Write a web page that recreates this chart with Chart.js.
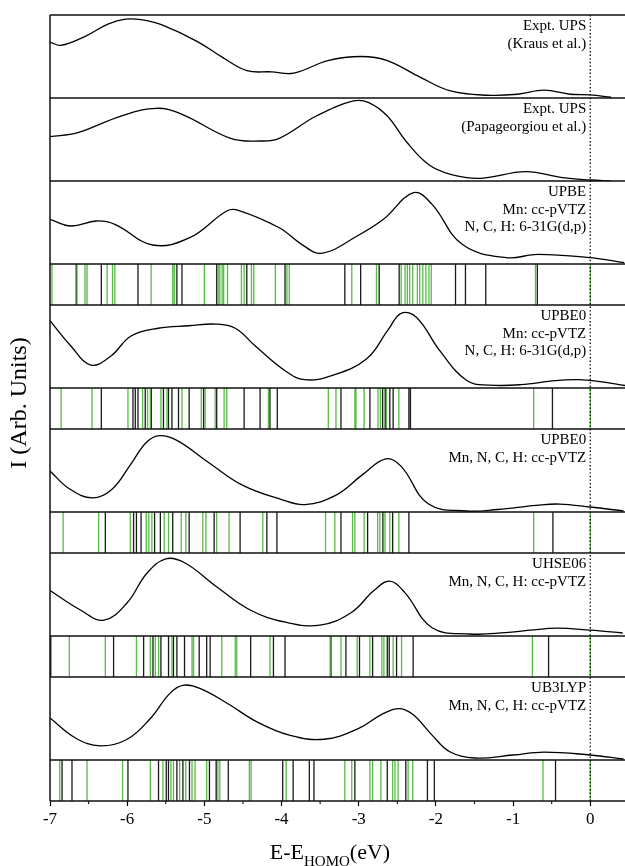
<!DOCTYPE html>
<html>
<head>
<meta charset="utf-8">
<script src="https://cdn.jsdelivr.net/npm/chart.js@4/dist/chart.umd.min.js"></script>
<style>
  html, body { margin: 0; padding: 0; background: #fff; }
  #wrap { position: relative; width: 625px; height: 866px; }
</style>
</head>
<body>
<div id="wrap"><canvas id="chart" width="625" height="866"></canvas></div>
<script>
// panel order, top to bottom
const panelKinds = ['curve', 'curve', 'curve', 'sticks', 'curve', 'sticks', 'curve', 'sticks', 'curve', 'sticks', 'curve', 'sticks'];

const panelLabels = [
  ['Expt. UPS', '(Kraus et al.)'],
  ['Expt. UPS', '(Papageorgiou et al.)'],
  ['UPBE', 'Mn: cc-pVTZ', 'N, C, H: 6-31G(d,p)'],
  null,
  ['UPBE0', 'Mn: cc-pVTZ', 'N, C, H: 6-31G(d,p)'],
  null,
  ['UPBE0', 'Mn, N, C, H: cc-pVTZ'],
  null,
  ['UHSE06', 'Mn, N, C, H: cc-pVTZ'],
  null,
  ['UB3LYP', 'Mn, N, C, H: cc-pVTZ'],
  null
];

// spectra: [energy (eV), relative intensity within panel]
const krausCurve = [[-7.0,0.674],[-6.86,0.634],[-6.55,0.74],[-6.25,0.89],[-6.02,0.95],[-5.8,0.94],[-5.55,0.88],[-5.09,0.68],[-4.75,0.48],[-4.45,0.33],[-4.13,0.315],[-3.84,0.30],[-3.40,0.451],[-2.97,0.50],[-2.63,0.451],[-2.20,0.248],[-1.81,0.085],[-1.33,0.033],[-0.94,0.045],[-0.60,0.094],[-0.26,0.045],[0,0.037],[0.27,0.009]];
const papaCurve = [[-7.0,0.534],[-6.64,0.582],[-6.08,0.783],[-5.62,0.876],[-5.29,0.803],[-4.66,0.514],[-4.27,0.482],[-4.03,0.514],[-3.55,0.783],[-3.07,0.964],[-2.87,0.944],[-2.63,0.783],[-2.39,0.482],[-2.10,0.201],[-1.81,0.08],[-1.42,0.032],[-0.84,0.112],[-0.36,0.04],[0,0.012],[0.27,0.0]];
const upbeCurve = [[-7.0,0.538],[-6.73,0.458],[-6.40,0.518],[-6.16,0.478],[-5.67,0.229],[-5.19,0.317],[-4.71,0.639],[-4.56,0.647],[-4.03,0.437],[-3.74,0.237],[-3.48,0.129],[-3.02,0.337],[-2.68,0.538],[-2.29,0.859],[-2.05,0.719],[-1.66,0.237],[-1.09,0.076],[-0.68,0.117],[0,0.076],[0.44,0.016]];
const upbe0Curve = [[-7.0,0.81],[-6.73,0.506],[-6.47,0.277],[-6.21,0.386],[-5.95,0.627],[-5.6,0.72],[-5.2,0.75],[-4.85,0.77],[-4.6,0.72],[-4.34,0.506],[-3.95,0.205],[-3.7,0.10],[-3.35,0.15],[-2.9,0.35],[-2.62,0.70],[-2.45,0.90],[-2.25,0.85],[-1.95,0.45],[-1.6,0.09],[-1.3,0.035],[-0.9,0.04],[-0.45,0.09],[-0.15,0.1],[0.1,0.08],[0.45,0.03]];
const upbe0tzCurve = [[-7.0,0.494],[-6.75,0.28],[-6.45,0.17],[-6.2,0.27],[-5.95,0.58],[-5.75,0.84],[-5.58,0.92],[-5.35,0.86],[-4.95,0.6],[-4.5,0.32],[-4.0,0.15],[-3.7,0.09],[-3.3,0.2],[-2.95,0.45],[-2.65,0.64],[-2.45,0.55],[-2.1,0.1],[-1.6,0.012],[-1.2,0.03],[-0.7,0.08],[-0.4,0.096],[0,0.06],[0.43,0.012]];
const hseCurve = [[-7.0,0.548],[-6.6,0.31],[-6.3,0.19],[-6.0,0.4],[-5.75,0.75],[-5.5,0.93],[-5.25,0.88],[-4.85,0.6],[-4.4,0.31],[-3.95,0.167],[-3.5,0.13],[-3.1,0.28],[-2.8,0.55],[-2.6,0.66],[-2.4,0.52],[-2.05,0.1],[-1.56,0.024],[-1.1,0.04],[-0.78,0.07],[-0.43,0.095],[0,0.07],[0.42,0.036]];
const b3lypCurve = [[-7.0,0.506],[-6.67,0.265],[-6.35,0.17],[-6.0,0.25],[-5.7,0.5],[-5.45,0.8],[-5.28,0.9],[-5.05,0.86],[-4.7,0.68],[-4.3,0.45],[-3.9,0.3],[-3.45,0.25],[-3.0,0.38],[-2.7,0.55],[-2.48,0.62],[-2.3,0.55],[-2.05,0.3],[-1.82,0.1],[-1.5,0.024],[-1.0,0.06],[-0.6,0.096],[0,0.06],[0.43,0.012]];

// orbital energies (eV): black and green sticks
const upbeBlack = [-6.66,-6.335,-5.86,-5.356,-5.29,-4.84,-4.45,-3.955,-3.18,-2.975,-2.735,-2.476,-1.746,-1.617,-1.354,-0.686];
const upbeGreen = [-6.975,-6.65,-6.546,-6.52,-6.26,-6.19,-6.16,-5.69,-5.41,-5.39,-5.00,-4.82,-4.80,-4.77,-4.75,-4.70,-4.52,-4.485,-4.39,-4.36,-4.08,-3.93,-3.90,-3.09,-2.77,-2.45,-2.40,-2.37,-2.34,-2.30,-2.24,-2.21,-2.17,-2.13,-2.09,-2.06,-0.71,0];
const upbe0Black = [-6.335,-5.925,-5.895,-5.86,-5.766,-5.688,-5.53,-5.465,-5.42,-5.335,-5.197,-5.01,-4.84,-4.485,-4.278,-4.15,-4.055,-3.23,-2.855,-2.69,-2.657,-2.597,-2.554,-2.35,-2.33,-0.49];
const upbe0Green = [-6.856,-6.455,-5.99,-5.80,-5.736,-5.70,-5.563,-5.485,-5.29,-5.04,-4.99,-4.86,-4.744,-4.71,-4.17,-3.394,-3.295,-3.05,-3.036,-2.93,-2.75,-2.72,-2.64,-2.48,-0.733,0];
const upbe0tzBlack = [-6.283,-5.917,-5.88,-5.82,-5.645,-5.57,-5.41,-5.197,-4.873,-4.537,-4.19,-4.06,-3.23,-2.885,-2.687,-2.56,-2.35,-0.484];
const upbe0tzGreen = [-6.83,-6.37,-5.96,-5.753,-5.72,-5.68,-5.52,-5.464,-5.30,-5.24,-5.02,-4.98,-4.84,-4.68,-4.243,-3.43,-3.31,-3.08,-3.05,-2.93,-2.755,-2.726,-2.66,-2.597,-2.48,-0.733,0];
const hseBlack = [-6.99,-6.176,-5.787,-5.666,-5.563,-5.464,-5.40,-5.356,-5.257,-5.067,-4.97,-4.925,-4.40,-4.105,-3.955,-3.36,-3.166,-2.99,-2.82,-2.63,-2.605,-2.51,-2.295,-0.54];
const hseGreen = [-6.75,-6.283,-5.88,-5.70,-5.636,-5.593,-5.42,-5.16,-5.14,-4.774,-4.60,-4.58,-4.15,-3.37,-3.23,-3.02,-2.855,-2.70,-2.674,-2.554,-2.445,-0.75,0];
const b3lypBlack = [-6.844,-6.715,-5.99,-5.594,-5.494,-5.465,-5.356,-5.278,-5.193,-4.934,-4.847,-4.69,-3.985,-3.85,-3.64,-3.58,-3.05,-2.63,-2.39,-2.11,-2.02,-0.45];
const b3lypGreen = [-6.874,-6.52,-6.06,-5.70,-5.537,-5.433,-5.40,-5.32,-5.24,-5.16,-5.12,-4.97,-4.825,-4.80,-4.417,-4.395,-3.94,-3.18,-3.09,-2.855,-2.82,-2.713,-2.56,-2.53,-2.49,-2.36,-2.30,-0.613,0];

const curves = [krausCurve, papaCurve, upbeCurve, null, upbe0Curve, null, upbe0tzCurve, null, hseCurve, null, b3lypCurve, null];
const sticks = [null, null, null, [upbeBlack, upbeGreen], null, [upbe0Black, upbe0Green], null, [upbe0tzBlack, upbe0tzGreen], null, [hseBlack, hseGreen], null, [b3lypBlack, b3lypGreen]];

const SERIF = '"Liberation Serif", "DejaVu Serif", serif';
const BLACK_STICK = 'rgba(15,15,15,0.95)';
const GREEN_STICK = 'rgba(60,175,40,0.85)';

function curveSet(pts, axis) {
  return {
    data: pts.map(p => ({ x: p[0], y: p[1] })),
    yAxisID: axis, borderColor: '#000', borderWidth: 1.3,
    pointRadius: 0, tension: 0.4, fill: false
  };
}

function stickSet(xs, axis, color) {
  const d = [];
  xs.forEach(x => { d.push({ x, y: 0 }, { x, y: 1 }, { x, y: null }); });
  return {
    data: d, yAxisID: axis, borderColor: color, borderWidth: 1.3,
    pointRadius: 0, tension: 0, spanGaps: false, fill: false
  };
}

const datasets = [];
const scales = {
  x: {
    type: 'linear', position: 'bottom', min: -7, max: 0.45,
    border: { display: false },
    grid: {
      drawOnChartArea: false, drawTicks: true, tickLength: 5,
      tickColor: c => Number.isInteger(c.tick.value) ? '#000' : 'rgba(0,0,0,0)', tickWidth: 1.2
    },
    ticks: {
      stepSize: 0.5, autoSkip: false, includeBounds: false, maxRotation: 0, padding: 3,
      color: '#000', font: { family: SERIF, size: 17 },
      callback: v => Number.isInteger(v) ? String(v) : ''
    },
    afterFit: s => { s.height = 30; }
  }
};

panelKinds.forEach((kind, i) => {
  const id = 'p' + i;
  scales[id] = {
    type: 'linear', position: 'left', stack: 'panels',
    stackWeight: kind === 'curve' ? 83 : 41, weight: 20 - i,
    min: 0, max: 1, display: false
  };
  if (kind === 'curve') {
    datasets.push(curveSet(curves[i], id));
  } else {
    datasets.push(stickSet(sticks[i][1], id, GREEN_STICK));
    datasets.push(stickSet(sticks[i][0], id, BLACK_STICK));
  }
});

const framePlugin = {
  id: 'frame',
  afterDatasetsDraw(chart) {
    const { ctx, chartArea: a, scales: sc } = chart;
    const x0 = sc.x.getPixelForValue(0);
    ctx.save();
    // dotted line at the HOMO energy
    ctx.strokeStyle = '#000';
    ctx.lineWidth = 1.3;
    ctx.setLineDash([1.4, 2.2]);
    ctx.beginPath();
    ctx.moveTo(x0, a.top);
    ctx.lineTo(x0, a.bottom);
    ctx.stroke();
    ctx.setLineDash([]);

    // panel frames
    ctx.strokeStyle = '#111';
    ctx.lineWidth = 1.5;
    ctx.beginPath();
    panelKinds.forEach((k, i) => {
      const s = sc['p' + i];
      ctx.moveTo(a.left, s.top);
      ctx.lineTo(a.right, s.top);
    });
    ctx.moveTo(a.left, a.bottom);
    ctx.lineTo(a.right, a.bottom);
    ctx.moveTo(a.left, a.top);
    ctx.lineTo(a.left, a.bottom);
    ctx.stroke();

    // minor ticks
    ctx.lineWidth = 1.1;
    ctx.beginPath();
    for (let v = -6.5; v < 0.45; v += 1) {
      const px = sc.x.getPixelForValue(v);
      ctx.moveTo(px, a.bottom);
      ctx.lineTo(px, a.bottom + 3);
    }
    ctx.stroke();

    // panel labels
    ctx.fillStyle = '#000';
    ctx.font = '15px ' + SERIF;
    ctx.textAlign = 'right';
    ctx.textBaseline = 'middle';
    panelLabels.forEach((lines, i) => {
      if (!lines) return;
      const s = sc['p' + i];
      lines.forEach((t, k) => ctx.fillText(t, x0 - 4, s.top + 11.5 + k * 17.5));
    });

    // y title
    ctx.save();
    ctx.translate(20, 403);
    ctx.rotate(-Math.PI / 2);
    ctx.textAlign = 'center';
    ctx.font = '24px ' + SERIF;
    ctx.fillText('I (Arb. Units)', 0, 0);
    ctx.restore();

    // x title with subscript
    ctx.textAlign = 'left';
    ctx.textBaseline = 'alphabetic';
    const big = '22px ' + SERIF, small = '15px ' + SERIF;
    ctx.font = big;
    const w1 = ctx.measureText('E-E').width, w3 = ctx.measureText('(eV)').width;
    ctx.font = small;
    const w2 = ctx.measureText('HOMO').width;
    let x = 330 - (w1 + w2 + w3) / 2;
    ctx.font = big; ctx.fillText('E-E', x, 859); x += w1;
    ctx.font = small; ctx.fillText('HOMO', x, 866); x += w2;
    ctx.font = big; ctx.fillText('(eV)', x, 859);
    ctx.restore();
  }
};

new Chart(document.getElementById('chart'), {
  type: 'line',
  data: { datasets },
  options: {
    responsive: false,
    animation: false,
    devicePixelRatio: 1,
    layout: { padding: { left: 50, top: 15, right: 0, bottom: 35 } },
    plugins: { legend: { display: false }, tooltip: { enabled: false } },
    scales
  },
  plugins: [framePlugin]
});
</script>
</body>
</html>
